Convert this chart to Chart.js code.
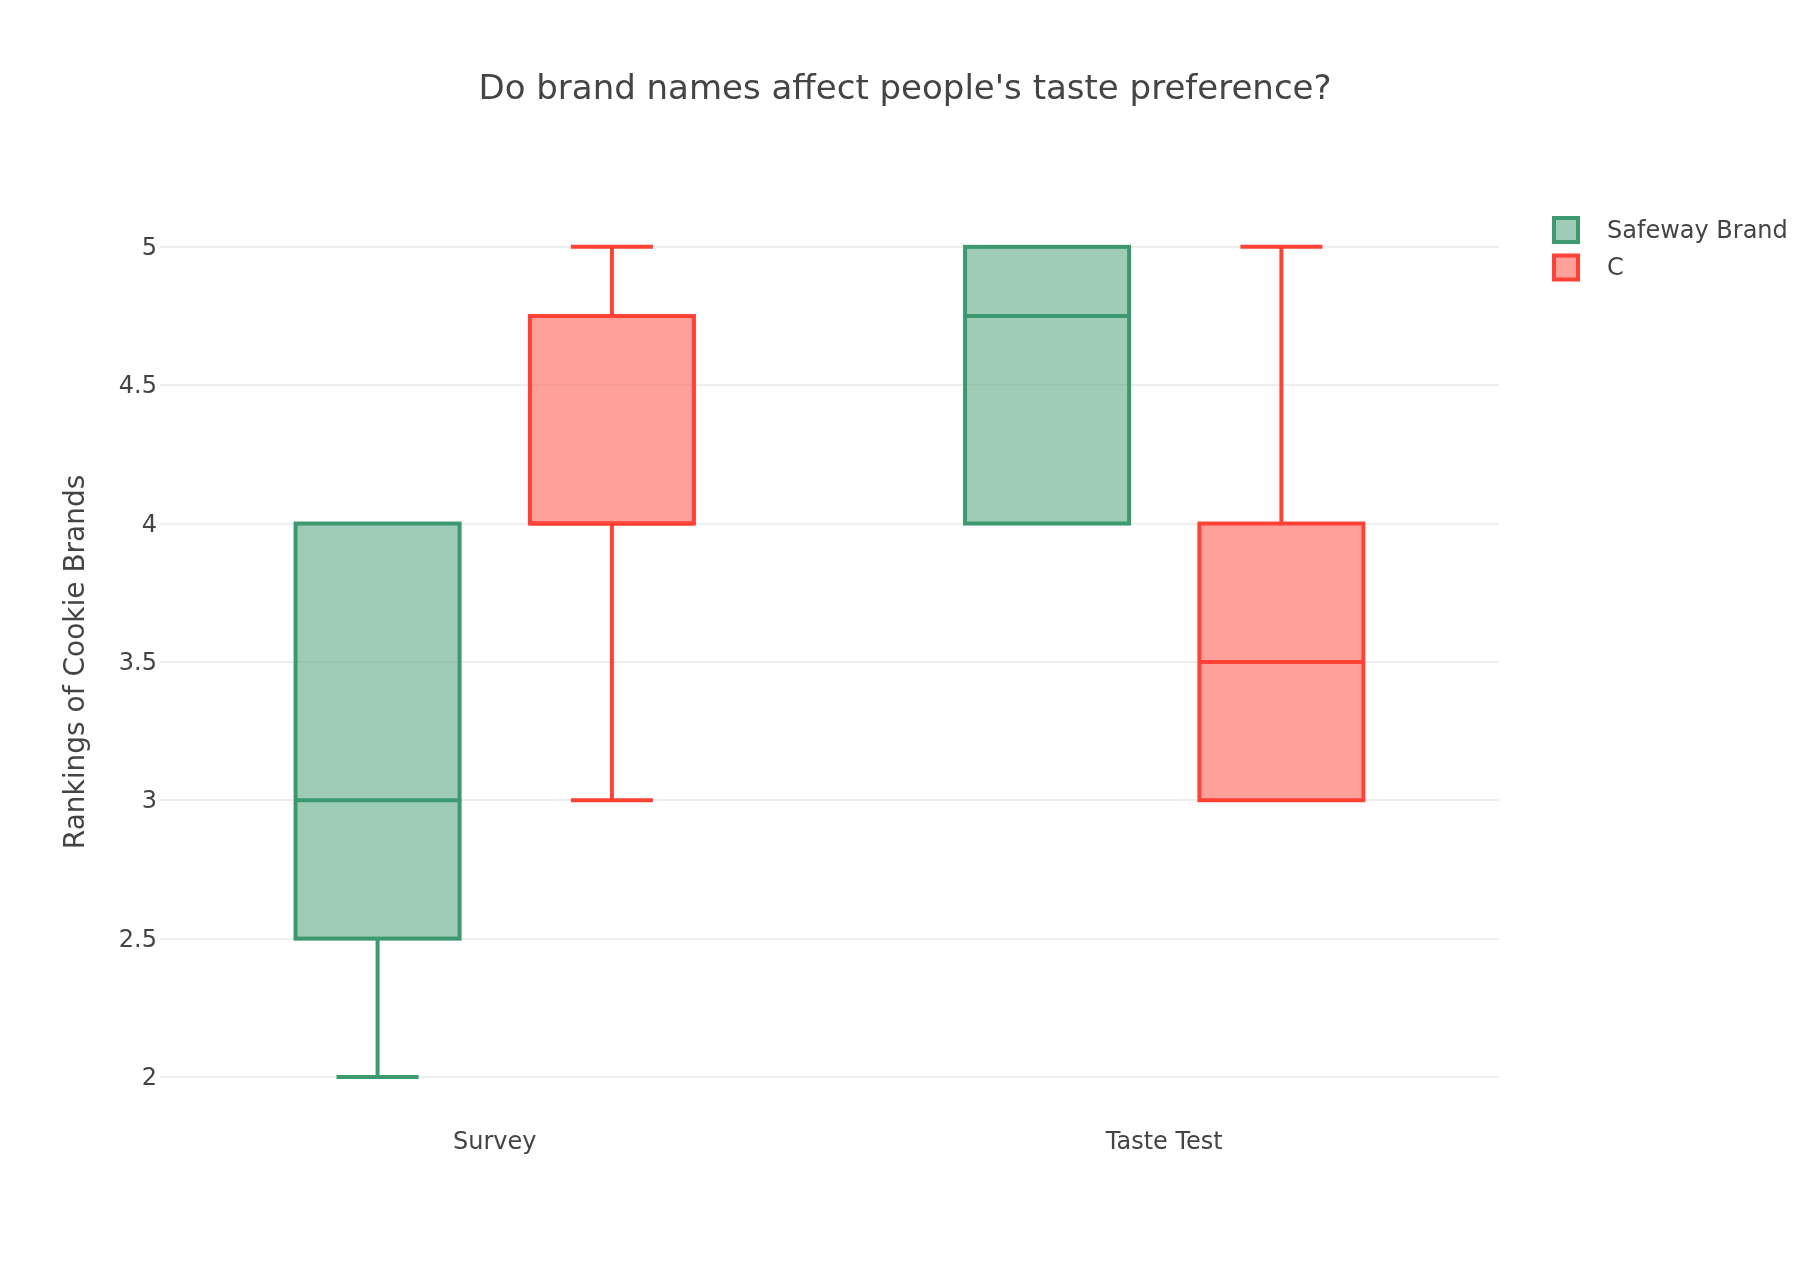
<!DOCTYPE html>
<html>
<head>
<meta charset="utf-8">
<script src="https://cdn.jsdelivr.net/npm/chart.js@4.4.1/dist/chart.umd.min.js"></script>
<style>
  html, body { margin: 0; padding: 0; background: #fff; overflow: hidden; }
  #wrap { width: 1810px; height: 1284px; position: relative; }
</style>
</head>
<body>
<div id="wrap"><canvas id="c" width="1810" height="1284"></canvas></div>
<script>
// ---- data ----
const categories = ['Survey', 'Taste Test'];
const seriesNames = ['Safeway Brand', 'C'];

const safewayMin    = [2,   4];
const safewayQ1     = [2.5, 4];
const safewayMedian = [3,   4.75];
const safewayQ3     = [4,   5];
const safewayMax    = [4,   5];

const cMin    = [3,    3];
const cQ1     = [4,    3];
const cMedian = [4,    3.5];
const cQ3     = [4.75, 4];
const cMax    = [5,    5];

const yTicks = [2, 2.5, 3, 3.5, 4, 4.5, 5];
const yRange = [1.83, 5.17];

const chartTitle = "Do brand names affect people's taste preference?";
const yTitle = 'Rankings of Cookie Brands';

// ---- styles ----
const FONT = "'DejaVu Sans', Verdana, sans-serif";
const TEXT = '#444444';
const GREEN = '#3D9970', GREEN_FILL = 'rgba(61,153,112,0.5)';
const RED = '#FF4136', RED_FILL = 'rgba(255,65,54,0.5)';
const LW = 4;

function boxData(q1, q3) { return categories.map((_, i) => [q1[i], q3[i]]); }

const datasets = [
  {
    label: seriesNames[0],
    data: boxData(safewayQ1, safewayQ3),
    stats: { min: safewayMin, q1: safewayQ1, median: safewayMedian, q3: safewayQ3, max: safewayMax },
    backgroundColor: GREEN_FILL,
    strokeColor: GREEN,
    borderWidth: 0,
    barPercentage: 0.7,
    categoryPercentage: 0.7
  },
  {
    label: seriesNames[1],
    data: boxData(cQ1, cQ3),
    stats: { min: cMin, q1: cQ1, median: cMedian, q3: cQ3, max: cMax },
    backgroundColor: RED_FILL,
    strokeColor: RED,
    borderWidth: 0,
    barPercentage: 0.7,
    categoryPercentage: 0.7
  }
];

const boxPlugin = {
  id: 'boxStrokes',
  afterDatasetsDraw(chart) {
    const ctx = chart.ctx;
    const ys = chart.scales.y;
    chart.data.datasets.forEach((ds, di) => {
      const meta = chart.getDatasetMeta(di);
      meta.data.forEach((el, i) => {
        const x = el.x, w = el.width;
        const s = ds.stats;
        const pMin = ys.getPixelForValue(s.min[i]);
        const pQ1 = ys.getPixelForValue(s.q1[i]);
        const pMed = ys.getPixelForValue(s.median[i]);
        const pQ3 = ys.getPixelForValue(s.q3[i]);
        const pMax = ys.getPixelForValue(s.max[i]);
        ctx.save();
        ctx.strokeStyle = ds.strokeColor;
        ctx.lineWidth = LW;
        ctx.lineJoin = 'miter';
        ctx.lineCap = 'butt';
        ctx.strokeRect(x - w / 2, pQ3, w, pQ1 - pQ3);
        ctx.beginPath();
        ctx.moveTo(x - w / 2, pMed); ctx.lineTo(x + w / 2, pMed);
        if (s.max[i] > s.q3[i]) {
          ctx.moveTo(x, pQ3); ctx.lineTo(x, pMax);
          ctx.moveTo(x - w / 4, pMax); ctx.lineTo(x + w / 4, pMax);
        }
        if (s.min[i] < s.q1[i]) {
          ctx.moveTo(x, pQ1); ctx.lineTo(x, pMin);
          ctx.moveTo(x - w / 4, pMin); ctx.lineTo(x + w / 4, pMin);
        }
        ctx.stroke();
        ctx.restore();
      });
    });
  },
  afterDraw(chart) {
    const ctx = chart.ctx;
    const x0 = chart.chartArea.right + 55;
    const rowY = [230, 267.5];
    ctx.save();
    chart.data.datasets.forEach((ds, di) => {
      const cy = rowY[di];
      ctx.fillStyle = ds.backgroundColor;
      ctx.fillRect(x0, cy - 12, 24, 24);
      ctx.strokeStyle = ds.strokeColor;
      ctx.lineWidth = LW;
      ctx.strokeRect(x0, cy - 12, 24, 24);
      ctx.fillStyle = TEXT;
      ctx.font = '24px ' + FONT;
      ctx.textBaseline = 'middle';
      ctx.textAlign = 'left';
      ctx.fillText(ds.label, x0 + 53, cy + 1.5);
    });
    ctx.restore();
  }
};

new Chart(document.getElementById('c'), {
  type: 'bar',
  data: { labels: categories, datasets },
  plugins: [boxPlugin],
  options: {
    responsive: false,
    animation: false,
    devicePixelRatio: 1,
    layout: { padding: 0 },
    plugins: {
      legend: { display: false },
      tooltip: { enabled: false },
      title: {
        display: true,
        text: chartTitle,
        color: TEXT,
        font: { family: FONT, size: 34, weight: 'normal' },
        padding: { top: 70, bottom: 89 }
      }
    },
    scales: {
      x: {
        type: 'category',
        grid: { display: false, drawTicks: false },
        border: { display: false },
        ticks: { color: TEXT, font: { family: FONT, size: 24 }, padding: 4 },
        afterFit(s) { s.height = 160; }
      },
      y: {
        type: 'linear',
        position: 'left',
        min: yRange[0],
        max: yRange[1],
        grid: { color: '#eeeeee', lineWidth: 2, drawTicks: false },
        border: { display: false },
        ticks: {
          color: TEXT,
          font: { family: FONT, size: 24 },
          padding: 3,
          labelOffset: 2,
          callback: v => String(v)
        },
        afterBuildTicks(s) { s.ticks = yTicks.map(v => ({ value: v })); },
        title: {
          display: true,
          text: yTitle,
          color: TEXT,
          font: { family: FONT, size: 28, weight: 'normal' },
          padding: { top: 60, bottom: 0 }
        },
        afterFit(s) { s.width = 160; }
      },
      y2: {
        type: 'linear',
        position: 'right',
        display: true,
        grid: { display: false, drawTicks: false },
        border: { display: false },
        ticks: { display: false },
        afterFit(s) { s.width = 311; }
      }
    }
  }
});
</script>
</body>
</html>
